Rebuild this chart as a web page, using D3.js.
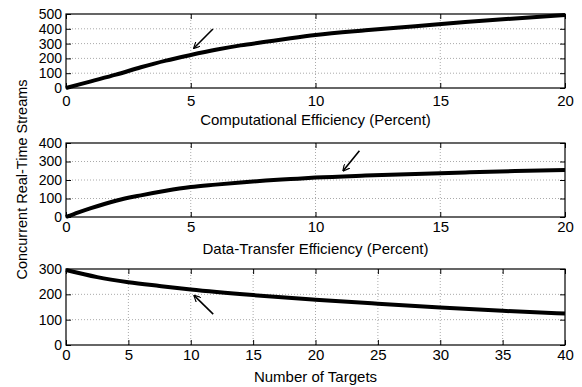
<!DOCTYPE html>
<html>
<head>
<meta charset="utf-8">
<script src="https://cdn.jsdelivr.net/npm/d3@7"></script>
<style>
  body { margin: 0; background: #fff; }
  svg { display: block; }
  text { font-family: "Liberation Sans", Arial, sans-serif; fill: #000; }
</style>
</head>
<body>
<svg width="582" height="387"></svg>
<script>
// values, one small array per series
const compEffX = [0, 1, 2, 3, 4, 5, 6, 7, 8, 9, 10, 12, 14, 16, 18, 20];
const compEffY = [0, 45, 90, 140, 185, 223, 258, 288, 312, 336, 358, 390, 418, 446, 470, 493];

const dataEffX = [0, 0.5, 1, 2, 3, 4, 5, 6, 7, 8, 9, 10, 12, 14, 16, 18, 20];
const dataEffY = [0, 25, 48, 88, 117, 142, 162, 175, 187, 197, 205, 213, 224, 233, 241, 248, 254];

const targetsX = [0, 2.5, 5, 7.5, 10, 15, 20, 25, 30, 35, 40];
const targetsY = [296, 268, 248, 233, 219, 197, 179, 163, 148, 135, 124];

const effTicks = [0, 5, 10, 15, 20];
const targetTicks = [0, 5, 10, 15, 20, 25, 30, 35, 40];

const panels = [
  {label: 'Computational Efficiency (Percent)', xs: compEffX, ys: compEffY,
   xMax: 20, xTicks: effTicks, yMax: 500, yTicks: [0, 100, 200, 300, 400, 500],
   arrow: [[5.89, 399], [5.13, 270]], top: 14, bottom: 88, tickGap: 18, labelY: 125},
  {label: 'Data-Transfer Efficiency (Percent)', xs: dataEffX, ys: dataEffY,
   xMax: 20, xTicks: effTicks, yMax: 400, yTicks: [0, 100, 200, 300, 400],
   arrow: [[11.76, 358], [11.11, 250]], top: 143, bottom: 217, tickGap: 15, labelY: 254},
  {label: 'Number of Targets', xs: targetsX, ys: targetsY,
   xMax: 40, xTicks: targetTicks, yMax: 300, yTicks: [0, 100, 200, 300],
   arrow: [[11.8, 122], [10.28, 195]], top: 269, bottom: 345, tickGap: 15, labelY: 382}
];

const svg = d3.select('svg');
const left = 66, right = 565;

svg.append('defs').append('marker')
  .attr('id', 'head')
  .attr('viewBox', '0 -5 10 10')
  .attr('refX', 9).attr('refY', 0)
  .attr('markerWidth', 7).attr('markerHeight', 7)
  .attr('markerUnits', 'userSpaceOnUse')
  .attr('orient', 'auto')
  .append('path')
  .attr('d', 'M0,-5L10,0L0,5')
  .attr('fill', 'none').attr('stroke', '#000').attr('stroke-width', 1.6);

panels.forEach(p => drawPanel(p));

function drawPanel(p) {
  const x = d3.scaleLinear().domain([0, p.xMax]).range([left, right]);
  const y = d3.scaleLinear().domain([0, p.yMax]).range([p.bottom, p.top]);
  const g = svg.append('g');

  // dotted grid
  g.selectAll('.vg').data(p.xTicks.slice(1, -1)).enter().append('line')
    .attr('x1', d => x(d)).attr('x2', d => x(d))
    .attr('y1', p.top).attr('y2', p.bottom)
    .attr('stroke', '#aaa').attr('stroke-width', 1).attr('stroke-dasharray', '1,2');
  g.selectAll('.hg').data(p.yTicks.slice(1, -1)).enter().append('line')
    .attr('x1', left).attr('x2', right)
    .attr('y1', d => y(d)).attr('y2', d => y(d))
    .attr('stroke', '#aaa').attr('stroke-width', 1).attr('stroke-dasharray', '1,2');

  // axes with inward ticks on all four sides
  const tl = 5;
  const xa = g.append('g').attr('transform', `translate(0,${p.bottom})`)
    .call(d3.axisBottom(x).tickValues(p.xTicks).tickSize(-tl).tickPadding(p.tickGap - 11).tickSizeOuter(0))
    .call(a => a.select('.domain').remove());
  g.append('g').attr('transform', `translate(0,${p.top})`)
    .call(d3.axisTop(x).tickValues(p.xTicks).tickSize(-tl).tickFormat('').tickSizeOuter(0))
    .call(a => a.select('.domain').remove());
  const ya = g.append('g').attr('transform', `translate(${left},0)`)
    .call(d3.axisLeft(y).tickValues(p.yTicks).tickSize(-tl).tickPadding(4).tickSizeOuter(0))
    .call(a => a.select('.domain').remove());
  g.append('g').attr('transform', `translate(${right},0)`)
    .call(d3.axisRight(y).tickValues(p.yTicks).tickSize(-tl).tickFormat('').tickSizeOuter(0))
    .call(a => a.select('.domain').remove());

  xa.selectAll('.tick text').attr('font-size', 15).attr('font-family', '"Liberation Sans", Arial, sans-serif');
  ya.selectAll('.tick text').attr('font-size', 14).attr('font-family', '"Liberation Sans", Arial, sans-serif');
  g.selectAll('.tick line').attr('stroke', '#000');

  g.append('rect')
    .attr('x', left).attr('y', p.top)
    .attr('width', right - left).attr('height', p.bottom - p.top)
    .attr('fill', 'none').attr('stroke', '#000').attr('stroke-width', 1.2);

  const line = d3.line()
    .x(d => x(d[0])).y(d => y(d[1]))
    .curve(d3.curveMonotoneX);
  g.append('path')
    .datum(p.xs.map((v, i) => [v, p.ys[i]]))
    .attr('d', line)
    .attr('fill', 'none').attr('stroke', '#000').attr('stroke-width', 4);

  g.append('line')
    .attr('x1', x(p.arrow[0][0])).attr('y1', y(p.arrow[0][1]))
    .attr('x2', x(p.arrow[1][0])).attr('y2', y(p.arrow[1][1]))
    .attr('stroke', '#000').attr('stroke-width', 1.6)
    .attr('marker-end', 'url(#head)');

  g.append('text')
    .attr('x', (left + right) / 2).attr('y', p.labelY)
    .attr('text-anchor', 'middle').attr('font-size', 15)
    .text(p.label);
}

svg.append('text')
  .attr('transform', `translate(27,${(14 + 345) / 2}) rotate(-90)`)
  .attr('text-anchor', 'middle').attr('font-size', 14.5)
  .text('Concurrent Real-Time Streams');
</script>
</body>
</html>
